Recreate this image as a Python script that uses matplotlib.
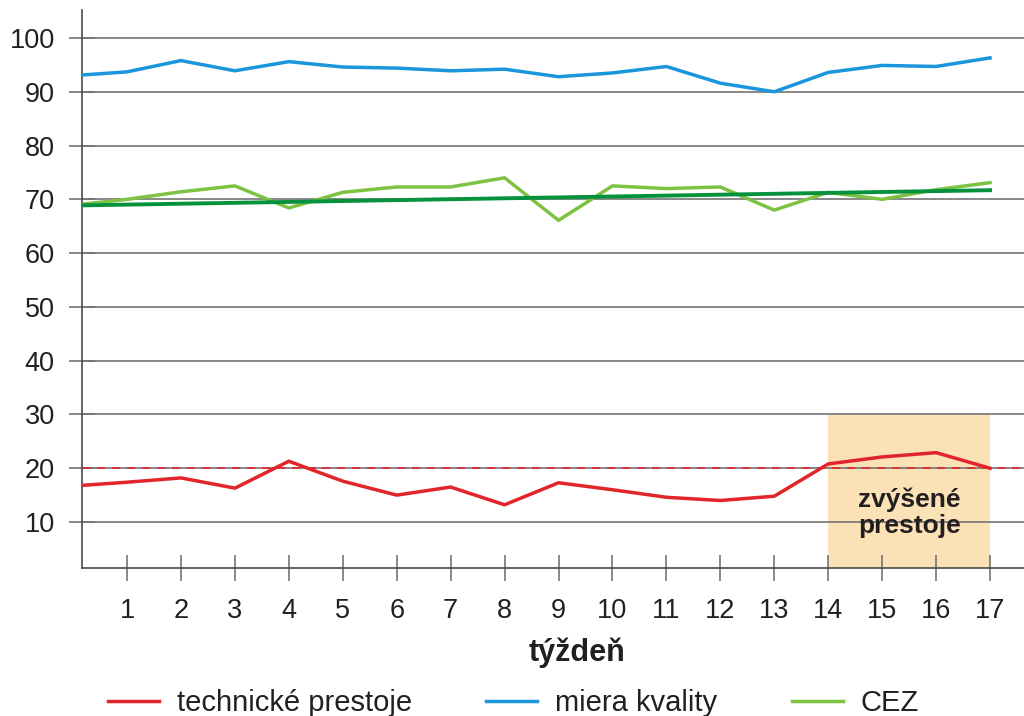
import matplotlib
matplotlib.use('Agg')
import matplotlib.pyplot as plt
from matplotlib.patches import Rectangle

# weekly values (week 0 is only the lead-in at the left edge)
weeks = list(range(0, 18))
downtime = [16.7, 17.4, 18.2, 16.3, 21.3, 17.6, 15.0, 16.5, 13.2, 17.3,
            16.0, 14.6, 14.0, 14.8, 20.8, 22.1, 22.9, 20.0]
quality = [93.0, 93.7, 95.8, 93.9, 95.6, 94.6, 94.4, 93.9, 94.2, 92.8,
           93.5, 94.7, 91.6, 90.0, 93.6, 94.9, 94.7, 96.3]
cez = [68.9, 70.0, 71.4, 72.5, 68.4, 71.3, 72.3, 72.3, 74.0, 66.1,
       72.5, 72.0, 72.3, 68.0, 71.3, 70.0, 71.8, 73.1]
trend_weeks = [0, 17]
trend_cez = [68.85, 71.7]
limit = 20
high_weeks = (14, 17)
high_top = 30

yticks = [10, 20, 30, 40, 50, 60, 70, 80, 90, 100]
xticks = list(range(1, 18))

RED = '#e2252b'
BLUE = '#1996dc'
LGREEN = '#7dc242'
DGREEN = '#06913c'
GRID = '#747474'
AXC = '#4a4a4a'

plt.rcParams['font.family'] = ['Liberation Sans', 'DejaVu Sans']


def main():
    fig = plt.figure(figsize=(10.24, 7.16), dpi=100)
    ax = fig.add_axes([0.080, 0.2067, 0.92, 0.7793])
    ax.set_xlim(0.164, 17.63)
    ax.set_ylim(1.45, 105.2)

    ax.add_patch(Rectangle((high_weeks[0], ax.get_ylim()[0]),
                           high_weeks[1] - high_weeks[0],
                           high_top - ax.get_ylim()[0],
                           facecolor='#fbe1b6', edgecolor='none', zorder=0))

    ax.set_yticks(yticks)
    ax.set_xticks(xticks)
    ax.yaxis.grid(True, color=GRID, linewidth=1.2, zorder=1)
    ax.set_axisbelow(True)
    ax.tick_params(axis='both', direction='inout', length=19, width=1.2,
                   color=GRID, labelsize=19.5, labelcolor='#231f20')
    ax.tick_params(axis='y', pad=10)
    ax.tick_params(axis='x', pad=12)

    for s in ['top', 'right']:
        ax.spines[s].set_visible(False)
    for s in ['left', 'bottom']:
        ax.spines[s].set_color(AXC)
        ax.spines[s].set_linewidth(1.2)

    ax.axhline(limit, color=RED, linewidth=1.2, dashes=(5, 4), zorder=2)

    ax.plot(weeks, downtime, color=RED, linewidth=2.5, label='technické prestoje', zorder=4)
    ax.plot(weeks, quality, color=BLUE, linewidth=2.5, label='miera kvality', zorder=4)
    ax.plot(weeks, cez, color=LGREEN, linewidth=2.5, label='CEZ', zorder=4)
    ax.plot(trend_weeks, trend_cez, color=DGREEN, linewidth=2.8, zorder=5)

    ax.text(sum(high_weeks) / 2, 11.8, 'zvýšené\nprestoje', ha='center', va='center',
            fontsize=19, fontweight='bold', color='#231f20', linespacing=1.1, zorder=6)

    fig.text(0.5635, 0.089, 'týždeň', ha='center', va='center',
             fontsize=22, fontweight='bold', color='#231f20')

    handles, labels = ax.get_legend_handles_labels()
    fig.legend(handles, labels, loc='center left', bbox_to_anchor=(0.105, 0.018),
               ncol=3, frameon=False, borderpad=0, borderaxespad=0,
               handlelength=1.75, handletextpad=0.62, columnspacing=2.55,
               labelcolor='#231f20',
               prop={'family': ['Liberation Sans', 'DejaVu Sans'], 'size': 21})

    fig.savefig('out.png', dpi=100)


if __name__ == '__main__':
    main()
